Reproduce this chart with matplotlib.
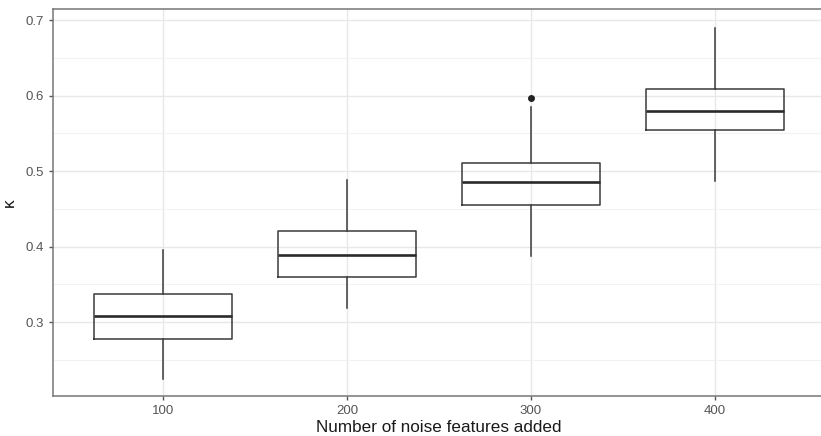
import matplotlib.pyplot as plt
from matplotlib.ticker import MultipleLocator

plt.rcParams["font.family"] = ["Liberation Sans", "DejaVu Sans"]

# values
noise = ["100", "200", "300", "400"]
whislo = [0.225, 0.319, 0.387, 0.487]
q1 = [0.278, 0.360, 0.455, 0.554]
med = [0.308, 0.389, 0.485, 0.580]
q3 = [0.337, 0.421, 0.511, 0.609]
whishi = [0.396, 0.488, 0.585, 0.690]
outliers = [[], [], [0.597], []]

stats = []
for i in range(len(noise)):
    stats.append({
        "label": noise[i], "whislo": whislo[i], "q1": q1[i], "med": med[i],
        "q3": q3[i], "whishi": whishi[i], "fliers": outliers[i],
    })

fig = plt.figure(figsize=(8.21, 4.36), dpi=100)
ax = fig.add_axes([53 / 821, 1 - 396 / 436, (825 - 53) / 821, (396 - 9) / 436])

ink = "#3a3a3a"
ax.bxp(
    stats, positions=range(1, len(noise) + 1), widths=0.75, showcaps=False,
    boxprops=dict(color=ink, linewidth=1.1),
    whiskerprops=dict(color=ink, linewidth=1.1),
    medianprops=dict(color="#2a2a2a", linewidth=1.9),
    flierprops=dict(marker="o", markersize=4, markerfacecolor="#222222",
                    markeredgecolor="#222222"),
    zorder=3,
)

ax.set_xlim(0.4, 4.6)
ax.set_ylim(0.202, 0.7146)
ax.yaxis.set_major_locator(MultipleLocator(0.1))
ax.yaxis.set_minor_locator(MultipleLocator(0.05))
ax.grid(which="major", color="#e8e8e8", linewidth=1.0, zorder=0)
ax.grid(which="minor", axis="y", color="#f2f2f2", linewidth=0.8, zorder=0)
ax.tick_params(which="minor", length=0)
ax.tick_params(which="major", length=3, width=1.0, color="#555555",
               labelcolor="#555555", labelsize=9.5, pad=3.5)
ax.set_yticks([0.3, 0.4, 0.5, 0.6, 0.7])
ax.set_yticklabels(["0.3", "0.4", "0.5", "0.6", "0.7"])
for s in ax.spines.values():
    s.set_color("#777777")
    s.set_linewidth(1.1)

ax.set_xlabel("Number of noise features added", fontsize=12.3, color="#1a1a1a",
              labelpad=2)
ax.set_ylabel("κ", fontsize=12.3, color="#1a1a1a", labelpad=6)

fig.savefig("out.png", dpi=100)
